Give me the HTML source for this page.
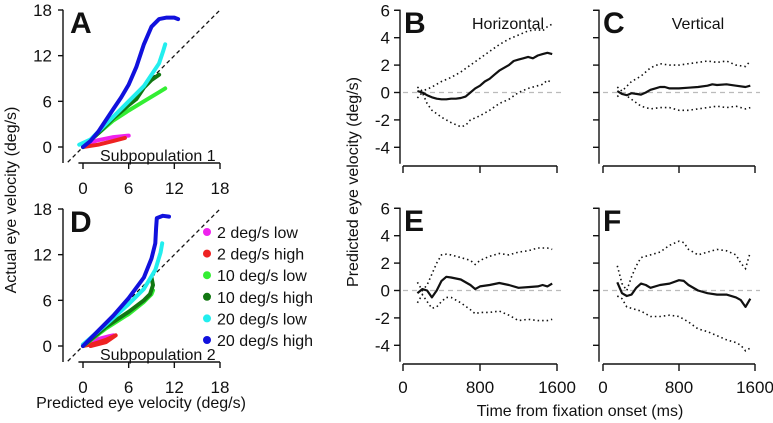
<!DOCTYPE html>
<html><head><meta charset="utf-8">
<style>
html,body{margin:0;padding:0;background:#fff;}
svg{display:block;font-family:"Liberation Sans",Arial,sans-serif;}
</style></head>
<body>
<svg id="fig" width="773" height="423" viewBox="0 0 773 423"></svg>
<script>
// ---------- scatter data (predicted vs actual), panel A ----------
const seriesNames = ["2 deg/s low","2 deg/s high","10 deg/s low","10 deg/s high","20 deg/s low","20 deg/s high"];
const seriesColors = ["#ee22ee","#ee2222","#33ee33","#117711","#22eeee","#1111dd"];
const aPredMagenta = [0,2,4,6];            const aActMagenta = [0.3,0.9,1.3,1.5];
const aPredRed = [0,2,4,5.5];              const aActRed = [0,0.3,0.8,1.2];
const aPredLGreen = [0,2,4,6,8,10,10.8];   const aActLGreen = [0,1.8,3.5,4.8,6,7.2,7.7];
const aPredDGreen = [0,2,4,6,7,8,9,10];    const aActDGreen = [0,1.8,3.8,5.5,6.3,7.8,8.8,9.5];
const aPredCyan = [-0.5,1,3,5,7,8,9,10,10.5,10.8]; const aActCyan = [0.3,1,3,5,7,8,9.5,11,12.5,13.5];
const aPredBlue = [0,1,2,3,4,5,6,7,8,9,10,11,12,12.5]; const aActBlue = [0,0.8,2,3.5,5,6.5,8.2,10.5,13.5,15.8,16.8,17,17,16.8];
// ---------- panel D ----------
const dPredMagenta = [0,2,3.5,4];          const dActMagenta = [0.2,0.9,1.3,1.4];
const dPredRed = [0,1.5,3,4.3,3,1];        const dActRed = [0,0.3,0.8,1.4,0.5,0];
const dPredLGreen = [0,3,6,8,9,9.2];       const dActLGreen = [0,2.3,4.2,5.8,6.8,7.3];
const dPredDGreen = [0,3,6,8,8.8,9.2,9];   const dActDGreen = [0,2.5,4.5,6,6.8,8,9];
const dPredCyan = [0,3,6,8,9.5,10.2,10.4]; const dActCyan = [0.2,2.8,5.5,7.5,10,12.3,13.5];
const dPredBlue = [0,2,4,6,8,9,9.5,9.6,9.7,10.5,11.3]; const dActBlue = [0,2,4,6.3,9,11.5,13.5,15.5,16.8,17.1,17];
const scatterTicks = [0,6,12,18];

// ---------- time-series data ----------
const bTime = [150,200,250,300,350,400,450,500,550,600,650,700,750,800,850,900,950,1000,1050,1100,1150,1200,1250,1300,1350,1400,1450,1500,1550];
const bMean = [0.1,0,-0.2,-0.35,-0.45,-0.5,-0.5,-0.45,-0.45,-0.4,-0.3,0,0.3,0.5,0.8,1.0,1.3,1.6,1.8,2.0,2.3,2.4,2.5,2.6,2.5,2.7,2.8,2.9,2.8];
const bBoundTime = [150,200,250,300,400,500,600,650,700,800,900,1000,1100,1200,1300,1400,1450,1500,1550];
const bUpper = [0.4,0.1,0.25,0.4,0.8,1.1,1.5,1.75,2.0,2.5,3.0,3.5,3.9,4.2,4.5,4.6,4.5,4.8,5.0];
const bLower = [-0.4,0,-0.8,-1.3,-1.8,-2.2,-2.5,-2.4,-2.0,-1.7,-1.3,-0.8,-0.5,0,0.3,0.5,0.6,0.9,0.7];
const cTime = [150,200,250,300,350,400,450,500,550,600,650,700,800,900,1000,1100,1150,1200,1300,1400,1500,1550];
const cMean = [0.1,-0.1,-0.2,-0.05,-0.1,-0.15,0,0.2,0.3,0.4,0.4,0.3,0.3,0.35,0.4,0.5,0.6,0.55,0.6,0.5,0.4,0.5];
const cBoundTime = [150,200,300,400,500,600,700,800,900,1000,1100,1200,1300,1400,1500,1550];
const cUpper = [0.4,0.1,0.8,1.2,1.8,2.1,2.0,2.0,2.1,2.2,2.3,2.2,2.3,2.0,1.9,2.3];
const cLower = [-0.3,0,-0.5,-1.0,-1.2,-1.1,-1.1,-1.3,-1.3,-1.2,-1.1,-1.0,-1.1,-1.0,-1.2,-1.1];
const eTime = [150,200,250,300,350,400,450,500,600,700,750,800,900,1000,1100,1200,1300,1400,1450,1500,1550];
const eMean = [-0.2,0.1,0,-0.5,0,0.7,1.0,0.95,0.8,0.4,0.1,0.3,0.4,0.55,0.4,0.2,0.25,0.3,0.4,0.3,0.5];
const eBoundTime = [150,200,250,300,350,400,450,500,600,700,750,800,900,1000,1100,1200,1300,1400,1500,1550];
const eUpper = [0.6,0,0.4,1.2,2.0,2.6,2.65,2.6,2.4,2.2,1.9,2.2,2.5,2.7,2.6,2.8,2.9,3.1,3.1,3.0];
const eLower = [-0.9,-0.3,-0.8,-1.3,-1.2,-0.8,-0.5,-0.5,-0.9,-1.4,-1.7,-1.6,-1.6,-1.5,-1.8,-2.2,-2.1,-2.2,-2.2,-2.1];
const fTime = [150,200,250,300,350,400,450,500,600,700,800,850,900,1000,1100,1200,1300,1400,1450,1500,1550];
const fMean = [0.6,-0.2,-0.4,-0.3,0.2,0.5,0.4,0.2,0.4,0.5,0.75,0.7,0.4,0,-0.2,-0.3,-0.3,-0.5,-0.7,-1.2,-0.6];
const fBoundTime = [150,200,250,300,350,400,500,600,700,800,850,900,1000,1100,1200,1300,1400,1450,1500,1550];
const fUpper = [1.8,0.5,0,1.0,1.8,2.4,2.6,2.8,3.3,3.6,3.5,3.0,2.6,2.8,3.0,2.9,2.6,2.0,1.6,2.8];
const fLower = [-0.4,-0.6,-1.2,-1.3,-1.4,-1.5,-1.9,-1.9,-1.8,-1.9,-2.1,-2.3,-2.8,-3.0,-3.3,-3.6,-3.8,-4.0,-4.4,-4.2];
const vTicks = [6,4,2,0,-2,-4];
const tTicks = [0,800,1600];

const NS="http://www.w3.org/2000/svg";
const svg=document.getElementById('fig');
function el(tag,attrs,parent){const e=document.createElementNS(NS,tag);for(const k in attrs)e.setAttribute(k,attrs[k]);(parent||svg).appendChild(e);return e;}
function txt(s,x,y,size,anchor,parent,extra){const t=el('text',Object.assign({x:x,y:y,'font-size':size,'text-anchor':anchor||'middle',fill:'#111'},extra||{}),parent);t.textContent=s;return t;}

// ---------- scatter panels ----------
function scatterPanel(name,letter,top,sets,subLabel){
  const g=el('g',{});
  
  
  const x0=83, xs=(220-83)/18;
  const yz=top+137, ys=137/18;
  const X=v=>x0+v*xs, Y=v=>yz-v*ys;
  // axes
  const ya=el('path',{d:`M${X(-2.6)},${Y(18)} L63,${Y(18)} L63,${Y(-2.1)}`,stroke:'#111','stroke-width':1.4,fill:'none'},g);
  
  
  scatterTicks.forEach(t=>{el('line',{x1:58,x2:63,y1:Y(t),y2:Y(t),stroke:'#111','stroke-width':1.4},g);txt(String(t),52,Y(t)+6,17,'end',g);});
  const xa=el('path',{d:`M${X(-0.6)},${yz+16} L220,${yz+16}`,stroke:'#111','stroke-width':1.4,fill:'none'},g);
  
  
  scatterTicks.forEach(t=>{el('line',{x1:X(t),x2:X(t),y1:yz+16,y2:yz+22,stroke:'#111','stroke-width':1.4},g);txt(String(t),X(t),yz+47,17,'middle',g);});
  // unity
  const u=el('line',{x1:X(-2),y1:Y(-2),x2:X(18),y2:Y(18),stroke:'#111','stroke-width':1.3,'stroke-dasharray':'4,3'},g);
  
  
  sets.forEach((s,i)=>{
    const d=s[0].map((v,j)=>(j?'L':'M')+X(v).toFixed(1)+','+Y(s[1][j]).toFixed(1)).join(' ');
    const p=el('path',{d:d,stroke:seriesColors[i],'stroke-width':4,fill:'none','stroke-linecap':'round','stroke-linejoin':'round'},g);
    
    
  });
  txt(letter,70,top+23,30,'start',g,{'font-weight':'bold'});
  txt(subLabel,100,yz+14,16,'start',g);
}
scatterPanel('panel-a','A',10,[[aPredMagenta,aActMagenta],[aPredRed,aActRed],[aPredLGreen,aActLGreen],[aPredDGreen,aActDGreen],[aPredCyan,aActCyan],[aPredBlue,aActBlue]],'Subpopulation 1');
scatterPanel('panel-d','D',209,[[dPredMagenta,dActMagenta],[dPredRed,dActRed],[dPredLGreen,dActLGreen],[dPredDGreen,dActDGreen],[dPredCyan,dActCyan],[dPredBlue,dActBlue]],'Subpopulation 2');

// legend
const lg=el('g',{});


seriesNames.forEach((n,i)=>{
  const y=232+i*21.6;
  const e=el('g',{},lg);
  
  
  el('circle',{cx:207,cy:y,r:4,fill:seriesColors[i]},e);
  txt(n,217,y+6,16,'start',e);
});

// titles
const yt1=txt('Actual eye velocity (deg/s)',0,0,16,'middle',svg,{transform:'translate(16,200) rotate(-90)'});


const xt1=txt('Predicted eye velocity (deg/s)',141,408,16,'middle');


const yt2=txt('Predicted eye velocity (deg/s)',0,0,16,'middle',svg,{transform:'translate(358,182) rotate(-90)'});


const xt2=txt('Time from fixation onset (ms)',580,416,16,'middle');



// ---------- time panels ----------
function timePanel(name,letter,axisX,x0,top,tm,mean,bt,up,lo,showLabels,title,titleX){
  const g=el('g',{});
  
  
  const xs=(x0===403?154:152)/1600;
  const X=t=>x0+t*xs;
  const ys=27.4/2, yz=top+82.5;
  const Y=v=>yz-v*ys;
  const ya=el('path',{d:`M${axisX-5},${Y(6)} L${axisX},${Y(6)} L${axisX},${Y(-5.2)}`,stroke:'#111','stroke-width':1.4,fill:'none'},g);
  
  
  vTicks.forEach(t=>{el('line',{x1:axisX-6,x2:axisX,y1:Y(t),y2:Y(t),stroke:'#111','stroke-width':1.4},g);if(showLabels)txt(String(t),axisX-10,Y(t)+6,17,'end',g);});
  const xy=top+156;
  const xa=el('path',{d:`M${X(0)},${xy} L${X(1600)},${xy}`,stroke:'#111','stroke-width':1.4,fill:'none'},g);
  
  
  tTicks.forEach(t=>{el('line',{x1:X(t),x2:X(t),y1:xy,y2:xy+7,stroke:'#111','stroke-width':1.4},g);if(top>150)txt(String(t),X(t),xy+29,17,'middle',g);});
  const z=el('line',{x1:X(0),x2:X(1600)+5,y1:Y(0),y2:Y(0),stroke:'#bbb','stroke-width':1.2,'stroke-dasharray':'5,4'},g);
  
  
  const path=(ts,vs)=>ts.map((t,j)=>(j?'L':'M')+X(t).toFixed(1)+','+Y(vs[j]).toFixed(1)).join(' ');
  const pu=el('path',{d:path(bt,up),stroke:'#111','stroke-width':1.6,fill:'none','stroke-dasharray':'1.5,3'},g);
  
  
  const pl=el('path',{d:path(bt,lo),stroke:'#111','stroke-width':1.6,fill:'none','stroke-dasharray':'1.5,3'},g);
  
  
  const pm=el('path',{d:path(tm,mean),stroke:'#111','stroke-width':2.2,fill:'none','stroke-linejoin':'round'},g);
  
  
  txt(letter,axisX+4,top+23,30,'start',g,{'font-weight':'bold'});
  if(title)txt(title,titleX,top+19,16,'middle',g);
}
timePanel('panel-b','B',400,403,10,bTime,bMean,bBoundTime,bUpper,bLower,true,'Horizontal',508);
timePanel('panel-c','C',599,603,10,cTime,cMean,cBoundTime,cUpper,cLower,false,'Vertical',698);
timePanel('panel-e','E',400,403,208,eTime,eMean,eBoundTime,eUpper,eLower,true,null,0);
timePanel('panel-f','F',599,603,208,fTime,fMean,fBoundTime,fUpper,fLower,false,null,0);
</script>
</body></html>
